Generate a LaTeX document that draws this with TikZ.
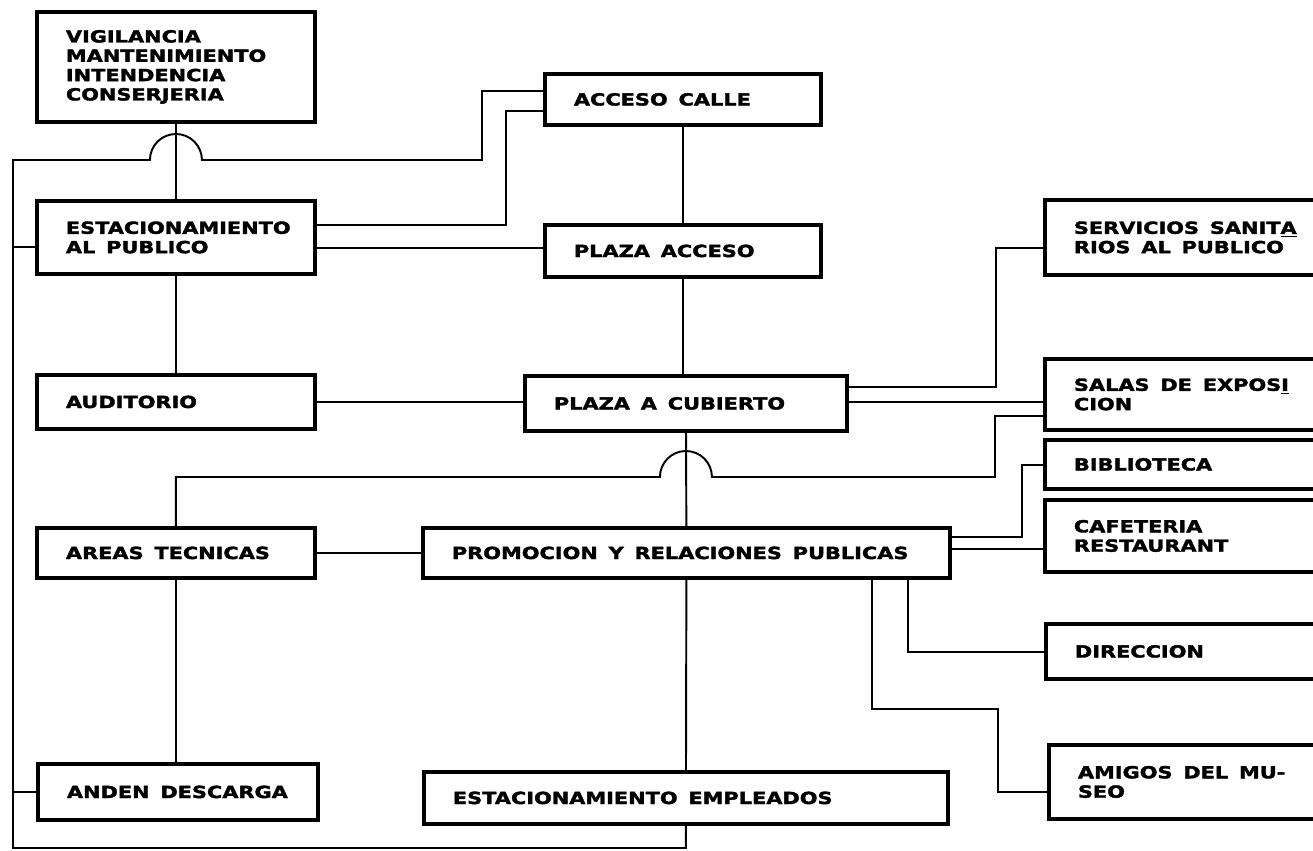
\documentclass[tikz,border=0pt]{standalone}
\usepackage{fontspec}
\usepackage{tikz}
\usetikzlibrary{calc}
\newfontfamily\boxfont[FakeStretch=1.25,BoldFeatures={FakeBold=2}]{DejaVu Sans}
\newcommand\wordgap{\spaceskip=0.65em plus 0.1em\relax}
\tikzstyle{box}=[draw, line width=2.2pt, anchor=north west, inner xsep=5.8mm, inner ysep=0pt, align=left, font=\boxfont\bfseries\fontsize{9.5pt}{11pt}\selectfont, execute at begin node=\wordgap]
\tikzstyle{link}=[line width=1.1pt]

\begin{document}
\begin{tikzpicture}[-,x=0.2mm,y=-0.2mm,line join=miter]

				\useasboundingbox (0,0) rectangle (1313,851);

				\draw node[box,text width=44mm,minimum height=22mm] (vig) at (35,10) {VIGILANCIA\\MANTENIMIENTO\\INTENDENCIA\\CONSERJERIA};
				\draw node[box,text width=44mm,minimum height=14.6mm] (estpub) at (35,199) {ESTACIONAMIENTO\\AL PUBLICO};
				\draw node[box,text width=44mm,minimum height=10.8mm] (auditorio) at (35,373) {AUDITORIO};
				\draw node[box,text width=44mm,minimum height=10mm] (areas) at (35,526) {AREAS~TECNICAS};
				\draw node[box,text width=44.4mm,minimum height=11.2mm] (anden) at (36,762) {ANDEN~DESCARGA};

				\draw node[box,text width=43.6mm,minimum height=10.2mm] (acceso) at (543,72) {ACCESO CALLE};
				\draw node[box,text width=43.6mm,minimum height=10.4mm] (plazaacc) at (543,223) {PLAZA ACCESO};
				\draw node[box,text width=52.8mm,minimum height=11mm] (cubierto) at (523,374) {PLAZA A CUBIERTO};
				\draw node[box,text width=93.8mm,minimum height=10mm] (promocion) at (421,526) {PROMOCION Y RELACIONES PUBLICAS};
				\draw node[box,text width=93.2mm,minimum height=10.4mm] (estemp) at (422,770) {ESTACIONAMIENTO EMPLEADOS};

				\draw node[box,text width=45.8mm,minimum height=15mm] (servicios) at (1043,198) {SERVICIOS~SANIT\underline{A}\\RIOS AL PUBLICO};
				\draw node[box,text width=45.8mm,minimum height=14.2mm] (salas) at (1043,357) {SALAS~DE~EXPOS\underline{I}\\CION};
				\draw node[box,text width=45.8mm,minimum height=9.8mm] (biblio) at (1043,438) {BIBLIOTECA};
				\draw node[box,text width=45.8mm,minimum height=14.4mm] (cafe) at (1043,498) {CAFETERIA\\RESTAURANT};
				\draw node[box,text width=45.6mm,minimum height=11mm] (direccion) at (1044,622) {DIRECCION};
				\draw node[box,text width=45.2mm,minimum height=14.8mm] (amigos) at (1047,743) {AMIGOS~DEL~MU-\\SEO};

				\coordinate (bustl) at (13,160);
				\coordinate (busbl) at (13,848);

				\path[link]
				(vig) edge (estpub)
				(estpub) edge (auditorio)
				(acceso) edge (plazaacc)
				(plazaacc.south) edge (plazaacc.south |- cubierto.north)
				(cubierto) edge (promocion)
				(promocion) edge (estemp)
				(areas.south) edge (areas.south |- anden.north)
				(auditorio.east) edge (auditorio.east -| cubierto.west)
				(areas.east) edge (areas.east -| promocion.west)
				;

				\draw[link] (estemp.south) -- (estemp.south |- busbl) -- (busbl) -- (bustl)
					-- ($(vig.south |- bustl)-(26,0)$) arc[start angle=180,end angle=360,radius=26]
					-- (482,160) -- (482,91) -- (acceso.west |- 0,91);
				\draw[link] (bustl |- 0,247) -- (estpub.west |- 0,247);
				\draw[link] (bustl |- 0,792) -- (anden.west |- 0,792);

				\draw[link] (estpub.east |- 0,225) -- (506,225) -- (506,111) -- (acceso.west |- 0,111);
				\draw[link] (estpub.east |- 0,248) -- (plazaacc.west |- 0,248);

				\draw[link] (cubierto.east |- 0,387) -- (996,387) -- (996,248) -- (servicios.west |- 0,248);
				\draw[link] (cubierto.east |- 0,402) -- (salas.west |- 0,402);
				\draw[link] (salas.west |- 0,416) -- (995,416) -- (995,477)
					-- ($(cubierto.south |- 0,477)+(26,0)$) arc[start angle=0,end angle=-180,radius=26]
					-- (areas.north |- 0,477) -- (areas.north);

				\draw[link] (promocion.east |- 0,537) -- (1022,537) -- (1022,465) -- (biblio.west |- 0,465);
				\draw[link] (promocion.east |- 0,549) -- (cafe.west |- 0,549);
				\draw[link] (promocion.south -| 908,0) -- (908,652) -- (direccion.west |- 0,652);
				\draw[link] (promocion.south -| 872,0) -- (872,709) -- (998,709) -- (998,792) -- (amigos.west |- 0,792);

\end{tikzpicture}
\end{document}
